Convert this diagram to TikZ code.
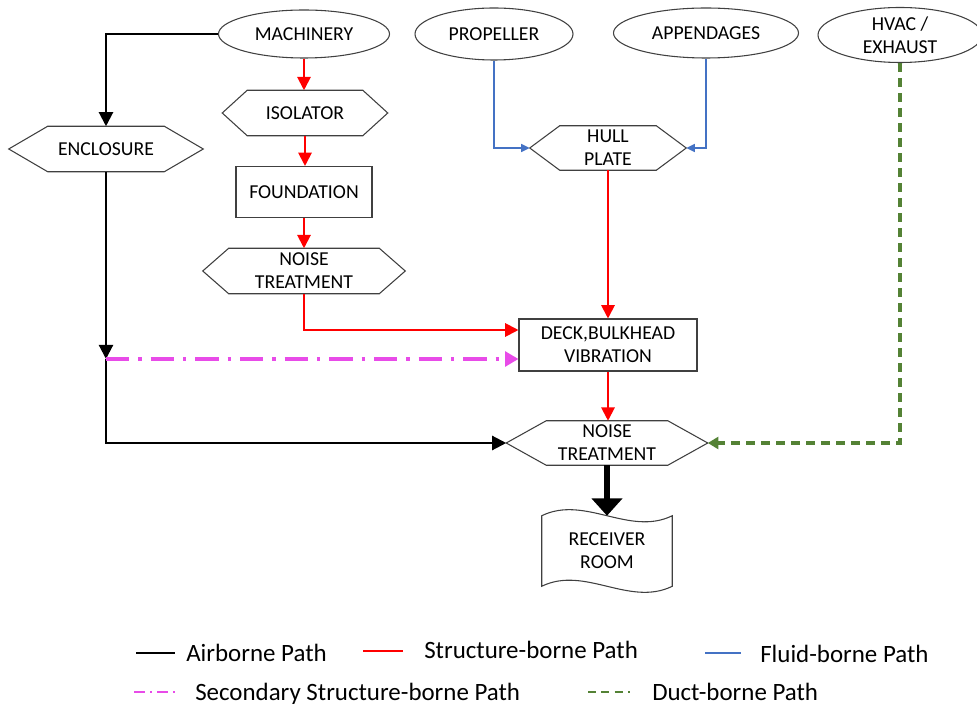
\documentclass[tikz,border=0pt]{standalone}
\usepackage{fontspec}
\setmainfont{Carlito}
\usetikzlibrary{arrows.meta,calc,shapes.geometric}
\definecolor{shapegray}{RGB}{64,64,64}
\definecolor{pathred}{RGB}{255,0,0}
\definecolor{pathblue}{RGB}{68,114,196}
\definecolor{pathmag}{RGB}{232,75,232}
\definecolor{pathgreen}{RGB}{84,130,53}
\tikzset{
  nodetext/.style={font=\fontsize{14.8}{17.3}\selectfont, align=center, inner sep=0pt, text=black},
  ell/.style={nodetext, ellipse, draw=shapegray, line width=0.8pt},
  box/.style={nodetext, rectangle, draw=shapegray, line width=0.8pt},
  hexbox/.style={nodetext, rectangle},
  shapeline/.style={draw=shapegray, line width=0.8pt, line join=miter},
  airpath/.style={black, line width=1.6pt, -{Triangle[length=10.5pt,width=10.5pt]}},
  structpath/.style={pathred, line width=1.5pt, -{Triangle[length=10pt,width=10pt]}},
  fluidpath/.style={pathblue, line width=1.2pt, -{Triangle[length=6.5pt,width=6pt]}},
  secpath/.style={pathmag, line width=2.6pt, dash pattern=on 17.5pt off 6.75pt on 2.5pt off 6.75pt, -{Triangle[length=10pt,width=11pt]}},
  ductpath/.style={pathgreen, line width=2.6pt, dash pattern=on 6.75pt off 4.5pt, -{Triangle[length=8pt,width=9pt]}},
  bigarrow/.style={black, line width=5pt, -{Triangle[length=13pt,width=22.5pt]}},
  legtext/.style={font=\fontsize{18.7}{22}\selectfont, inner sep=0pt, text=black, anchor=base west},
  legline/.style={line width=1.8pt},
}
\newcommand\hexa[2]{\draw[shapeline] ([xshift=#2]#1.north west) -- ([xshift=-#2]#1.north east) -- (#1.east) -- ([xshift=-#2]#1.south east) -- ([xshift=#2]#1.south west) -- (#1.west) -- cycle;}
\begin{document}
\begin{tikzpicture}[x=0.75pt,y=-0.75pt]
\useasboundingbox (0,0) rectangle (977,705);
% source ellipses
\node[ell, minimum width=128.25pt, minimum height=36pt] (mach) at (304,34) {MACHINERY};
\node[ell, minimum width=118.5pt, minimum height=39pt] (prop) at (494,34) {PROPELLER};
\node[ell, minimum width=138.75pt, minimum height=37.5pt] (app) at (706,33) {APPENDAGES};
\node[ell, minimum width=123pt, minimum height=41.25pt] (hvac) at (900,35) {HVAC /\\EXHAUST};
% hexagons and boxes
\node[hexbox, minimum width=123.75pt, minimum height=33.75pt] (iso) at (305,113) {ISOLATOR};
\hexa{iso}{18.75pt}
\node[hexbox, minimum width=145.5pt, minimum height=33.75pt] (enc) at (106,149) {ENCLOSURE};
\hexa{enc}{29.25pt}
\node[box, minimum width=102pt, minimum height=38.25pt] (found) at (304,192) {FOUNDATION};
\node[hexbox, minimum width=151.5pt, minimum height=33.75pt] (nt1) at (304,271) {NOISE\\TREATMENT};
\hexa{nt1}{19.5pt}
\node[hexbox, minimum width=117pt, minimum height=33pt] (hull) at (608,148) {HULL\\PLATE};
\hexa{hull}{22.5pt}
\node[box, minimum width=133.5pt, minimum height=39pt] (deck) at (608,345) {DECK,BULKHEAD\\VIBRATION};
\node[hexbox, minimum width=150.75pt, minimum height=33pt] (nt2) at (607,443) {NOISE\\TREATMENT};
\hexa{nt2}{30pt}
\node[hexbox, minimum width=97.5pt, minimum height=52.5pt] (recv) at (607,551) {RECEIVER\\ROOM};
\draw[shapeline] (recv.north west) .. controls ($(recv.north west)+(43,-21)$) and ($(recv.north east)+(-43,21)$) .. (recv.north east)
  -- (recv.south east) .. controls ($(recv.south east)+(-43,21)$) and ($(recv.south west)+(43,-21)$) .. (recv.south west) -- cycle;
% coordinates
\coordinate (j) at (106,359);
\coordinate (deckA) at ($(deck.west)+(0,-15)$);
\coordinate (deckB) at ($(deck.west)+(0,14)$);
% airborne
\draw[airpath] (mach.west) -| (enc.north);
\draw[airpath] (enc.south) -- (j);
\draw[airpath] (j) |- (nt2.west);
% structure-borne
\draw[structpath] (mach.south) -- (mach.south |- iso.north);
\draw[structpath] (iso.south) -- (iso.south |- found.north);
\draw[structpath] (found.south) -- (found.south |- nt1.north);
\draw[structpath] (nt1.south) |- (deckA);
\draw[structpath] (hull.south) -- (deck.north);
\draw[structpath] (deck.south) -- (deck.south |- nt2.north);
% fluid-borne
\draw[fluidpath] (prop.south) |- (hull.west);
\draw[fluidpath] (app.south) |- (hull.east);
% secondary
\draw[secpath] (j) -- (deckB);
% duct-borne
\draw[ductpath] (hvac.south) |- (nt2.east);
% to receiver
\draw[bigarrow] (nt2.south) -- (recv.north);
% legend
\draw[legline, black] (136,653) -- (175,653);
\node[legtext] (l1) at (186,661) {Airborne Path};
\draw[legline, pathred] (363,651) -- (403,651);
\node[legtext] (l2) at (424,658) {Structure-borne Path};
\draw[legline, pathblue] (705,653) -- (741,653);
\node[legtext] (l3) at (760,662) {Fluid-borne Path};
\draw[legline, pathmag, dash pattern=on 8pt off 4pt on 1.5pt off 4pt] (134,692) -- (175,692);
\node[legtext] (l4) at (195,700) {Secondary Structure-borne Path};
\draw[legline, pathgreen, dash pattern=on 6pt off 4pt] (588,692) -- (630,692);
\node[legtext] (l5) at (652,700) {Duct-borne Path};
\end{tikzpicture}
\end{document}
